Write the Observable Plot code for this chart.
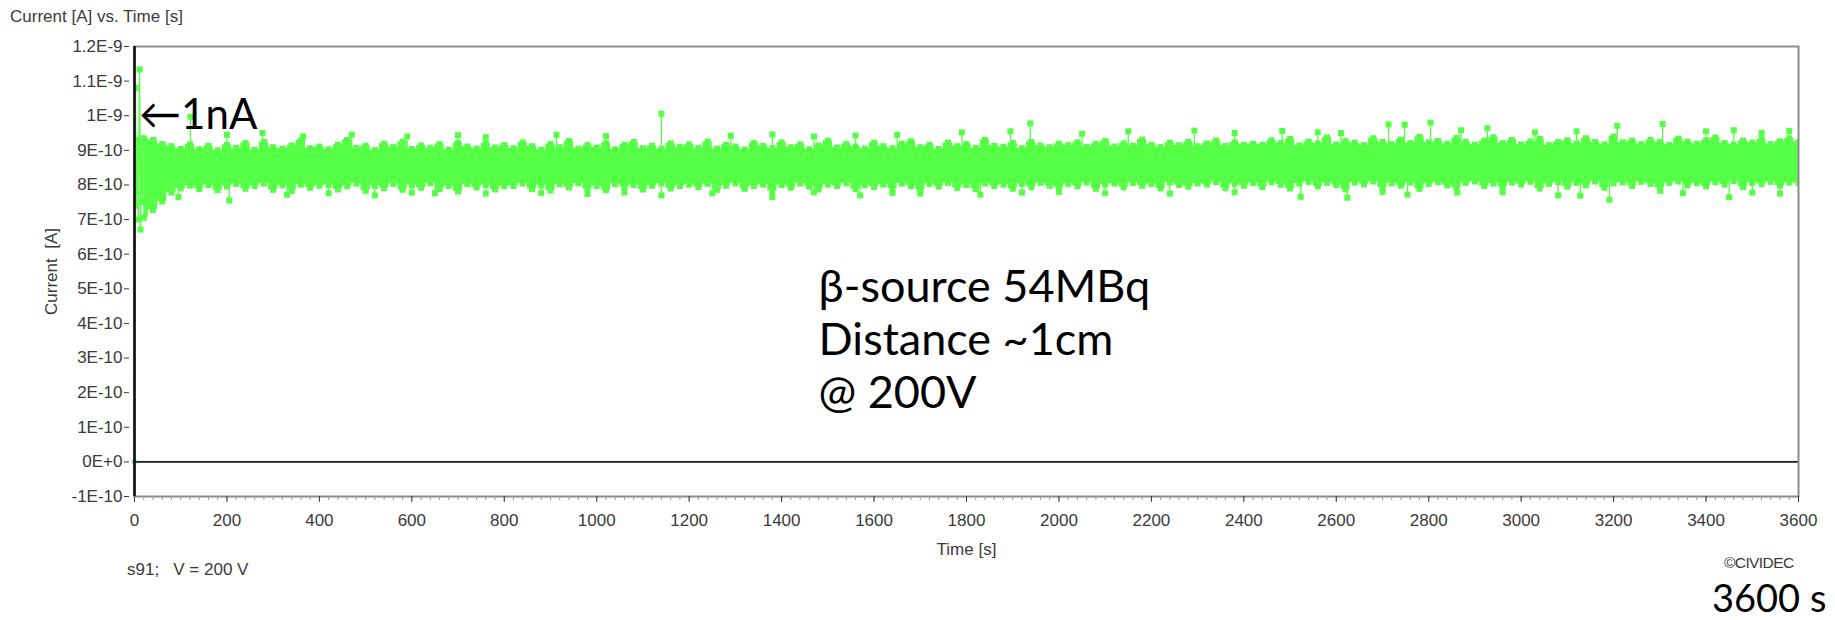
<!DOCTYPE html>
<html><head><meta charset="utf-8">
<script src="https://cdn.jsdelivr.net/npm/d3@7"></script>
<script src="https://cdn.jsdelivr.net/npm/@observablehq/plot@0.6"></script>
<style>
html,body{margin:0;padding:0;background:#fff;}
#wrap{position:relative;width:1835px;height:620px;overflow:hidden;font-family:"Liberation Sans",Arial,sans-serif;}
#chart{position:absolute;left:0;top:0;}
.lbl{position:absolute;white-space:pre;color:#3a3a3a;font-size:17px;line-height:20px;}
.big{position:absolute;white-space:pre;color:#000;font-family:Lato,"Open Sans",sans-serif;font-size:38px;line-height:38px;}
</style></head><body>
<div id="wrap">
  <div id="chart"></div>
  <div class="lbl" style="left:10px;top:7px">Current [A] vs. Time [s]</div>
  <div class="lbl" style="left:127px;top:560px">s91;   V = 200 V</div>
  <div class="lbl" style="left:1724px;top:555px;font-size:15.5px;line-height:16px;letter-spacing:-0.6px">©CIVIDEC</div>
  <div class="big" style="left:1712px;top:578px">3600 s</div>
</div>
<script>
// ---- axis ticks ----
const yTicks = [-1e-10, 0, 1e-10, 2e-10, 3e-10, 4e-10, 5e-10, 6e-10, 7e-10, 8e-10, 9e-10, 1e-9, 1.1e-9, 1.2e-9];
const yTickLabels = ["-1E-10", "0E+0", "1E-10", "2E-10", "3E-10", "4E-10", "5E-10", "6E-10", "7E-10", "8E-10", "9E-10", "1E-9", "1.1E-9", "1.2E-9"];
const xTicks = [0, 200, 400, 600, 800, 1000, 1200, 1400, 1600, 1800, 2000, 2200, 2400, 2600, 2800, 3000, 3200, 3400, 3600];
const xTickLabels = ["0", "200", "400", "600", "800", "1000", "1200", "1400", "1600", "1800", "2000", "2200", "2400", "2600", "2800", "3000", "3200", "3400", "3600"];

// ---- start-up samples (time s, current nA) ----
const earlyTime = [0, 2, 4, 6, 8, 11, 13, 15, 17, 19];
const earlyValue = [0, 1.08, 0.74, 0.93, 0.70, 1.134, 0.671, 0.92, 0.75, 0.90];

// ---- envelope of the noisy current band, 20 s bins (nA) ----
const envTime = [
  20,40,60,80,100,120,140,160,180,200,220,240,260,280,300,320,340,360,380,400,
  420,440,460,480,500,520,540,560,580,600,620,640,660,680,700,720,740,760,780,800,
  820,840,860,880,900,920,940,960,980,1000,1020,1040,1060,1080,1100,1120,1140,1160,1180,1200,
  1220,1240,1260,1280,1300,1320,1340,1360,1380,1400,1420,1440,1460,1480,1500,1520,1540,1560,1580,1600,
  1620,1640,1660,1680,1700,1720,1740,1760,1780,1800,1820,1840,1860,1880,1900,1920,1940,1960,1980,2000,
  2020,2040,2060,2080,2100,2120,2140,2160,2180,2200,2220,2240,2260,2280,2300,2320,2340,2360,2380,2400,
  2420,2440,2460,2480,2500,2520,2540,2560,2580,2600,2620,2640,2660,2680,2700,2720,2740,2760,2780,2800,
  2820,2840,2860,2880,2900,2920,2940,2960,2980,3000,3020,3040,3060,3080,3100,3120,3140,3160,3180,3200,
  3220,3240,3260,3280,3300,3320,3340,3360,3380,3400,3420,3440,3460,3480,3500,3520,3540,3560,3580,3600];
const envHigh = [
  .935,.930,.918,.912,.904,.917,.903,.913,.900,.916,.907,.921,.902,.924,.909,.905,.914,.929,.906,.911,
  .903,.916,.930,.907,.913,.901,.919,.910,.925,.904,.914,.907,.918,.902,.922,.911,.905,.920,.908,.915,
  .906,.923,.912,.902,.918,.909,.927,.905,.915,.908,.921,.903,.916,.924,.906,.913,.904,.920,.910,.917,
  .907,.925,.905,.916,.911,.902,.921,.913,.906,.923,.909,.917,.903,.914,.928,.908,.918,.911,.905,.922,
  .912,.906,.919,.926,.909,.916,.904,.922,.912,.918,.907,.930,.913,.910,.921,.906,.924,.914,.909,.919,
  .915,.923,.910,.919,.927,.911,.920,.913,.931,.916,.909,.922,.915,.925,.912,.920,.928,.913,.923,.916,
  .919,.916,.929,.921,.933,.914,.925,.920,.937,.917,.927,.922,.915,.935,.924,.918,.931,.921,.939,.923,
  .927,.919,.936,.924,.916,.928,.938,.921,.930,.917,.926,.933,.915,.924,.929,.920,.935,.924,.917,.940,
  .923,.928,.918,.930,.924,.916,.934,.925,.919,.929,.937,.921,.917,.928,.922,.932,.918,.926,.935,.924];
const envLow = [
  .705,.728,.752,.778,.790,.798,.788,.800,.785,.796,.803,.789,.797,.804,.786,.799,.783,.801,.792,.798,
  .800,.787,.796,.804,.783,.797,.791,.803,.786,.799,.792,.805,.788,.797,.781,.802,.793,.800,.787,.796,
  .797,.804,.788,.799,.784,.802,.793,.805,.789,.797,.785,.803,.794,.800,.787,.798,.804,.790,.797,.801,
  .794,.803,.786,.798,.805,.789,.797,.801,.783,.800,.792,.804,.795,.787,.801,.797,.805,.788,.799,.794,
  .801,.790,.804,.797,.786,.803,.795,.806,.791,.800,.788,.804,.797,.801,.789,.803,.794,.806,.798,.792,
  .803,.796,.807,.789,.801,.804,.793,.806,.798,.803,.790,.807,.800,.795,.804,.801,.808,.791,.803,.798,
  .806,.794,.808,.801,.790,.804,.809,.796,.806,.800,.787,.807,.802,.810,.793,.805,.798,.807,.789,.803,
  .808,.799,.791,.806,.810,.797,.804,.794,.807,.801,.809,.790,.803,.808,.795,.806,.799,.810,.792,.805,
  .807,.797,.809,.803,.792,.806,.810,.799,.805,.796,.808,.801,.811,.794,.806,.803,.809,.798,.807,.805];

// ---- isolated spikes above / below the band (time s, current nA) ----
const upTime  = [121, 200, 277, 365, 470, 590, 700, 760, 913, 1020, 1140, 1290, 1380, 1470, 1560, 1650, 1790, 1895, 1938, 2050, 2150, 2293, 2380, 2483, 2560, 2610, 2713, 2748, 2804, 2870, 2927, 3030, 3120, 3208, 3306, 3400, 3460, 3520, 3580];
const upValue = [.997, .945, .950, .940, .945, .940, .944, .938, .945, .941, 1.006, .942, .946, .940, .943, .945, .952, .955, .978, .948, .955, .957, .950, .956, .952, .950, .975, .974, .980, .958, .964, .952, .955, .971, .976, .955, .958, .950, .956];
const downTime  = [95, 205, 330, 420, 520, 600, 650, 760, 880, 980, 1060, 1140, 1250, 1380, 1470, 1570, 1640, 1700, 1830, 1920, 2000, 2100, 2240, 2380, 2523, 2624, 2700, 2754, 2862, 2960, 3080, 3128, 3191, 3301, 3350, 3450, 3500, 3560];
const downValue = [.765, .755, .772, .776, .770, .778, .776, .775, .777, .774, .778, .770, .776, .765, .779, .770, .777, .775, .772, .778, .780, .776, .775, .779, .766, .763, .780, .772, .778, .779, .770, .769, .757, .783, .776, .765, .778, .775];

// ---- annotations ----
const annotText = "β-source 54MBq\nDistance ~1cm\n@ 200V";
const annotTime = 1480, annotCurrent = 0.572;
const arrowText = "←1nA";
const arrowTime = 10, arrowCurrent = 1.0;

const green = "#55ff45";
const nA = 1e-9;
const env = envTime.map((t, i) => ({t, hi: envHigh[i], lo: envLow[i]}));
const binOf = t => env[Math.max(0, Math.min(env.length - 1, Math.round(t / 20) - 1))];
const early = earlyTime.map((t, i) => ({t, v: earlyValue[i]}));
const ups = upTime.map((t, i) => ({t, v: upValue[i], base: binOf(t).hi}));
const downs = downTime.map((t, i) => ({t, v: downValue[i], base: binOf(t).lo}));
const xMinor = d3.range(0, 3601, 20);
const sq = {symbol: "square", r: 3.4, fill: green, clip: true};

const chart = Plot.plot({
  width: 1835, height: 620,
  marginLeft: 134, marginRight: 37, marginTop: 46, marginBottom: 124,
  style: {fontFamily: "'Liberation Sans', Arial, sans-serif", fontSize: "17px", color: "#3a3a3a", background: "white"},
  x: {domain: [0, 3600]},
  y: {domain: [-1e-10, 1.2e-9]},
  marks: [
    Plot.ruleY([0], {stroke: "#1a1a1a", strokeWidth: 1.6}),
    Plot.areaY(env, {x: "t", y1: d => d.lo * nA, y2: d => d.hi * nA, fill: green, curve: "step", clip: true}),
    Plot.ruleX(ups, {x: "t", y1: d => d.base * nA, y2: d => d.v * nA, stroke: green, strokeWidth: 1.3}),
    Plot.ruleX(downs, {x: "t", y1: d => d.base * nA, y2: d => d.v * nA, stroke: green, strokeWidth: 1.3}),
    Plot.dot(env, {x: "t", y: d => d.hi * nA, ...sq}),
    Plot.dot(env, {x: "t", y: d => d.lo * nA, ...sq}),
    Plot.dot(ups, {x: "t", y: d => d.v * nA, ...sq}),
    Plot.dot(downs, {x: "t", y: d => d.v * nA, ...sq}),
    Plot.line(early, {x: "t", y: d => d.v * nA, stroke: green, strokeWidth: 1.3}),
    Plot.dot(early.slice(1), {x: "t", y: d => d.v * nA, ...sq}),
    Plot.dot(early.slice(0, 1), {x: "t", y: d => d.v * nA, symbol: "square", r: 2.2, fill: "#1fa81f"}),
    Plot.frame({stroke: "#8c8c8c", strokeWidth: 2}),
    Plot.ruleX([0], {stroke: "#111", strokeWidth: 2.6}),
    Plot.axisY({ticks: yTicks, tickFormat: d => yTickLabels[yTicks.indexOf(d)], tickSize: 5, tickPadding: 2, dx: -5,
      label: "Current  [A]", labelAnchor: "center", labelArrow: "none", labelOffset: 90}),
    Plot.axisX({ticks: xMinor, tickSize: 4, tickFormat: () => "", label: null, stroke: "#9a9a9a"}),
    Plot.axisX({ticks: xTicks, tickFormat: d => xTickLabels[xTicks.indexOf(d)], tickSize: 6, tickPadding: 11,
      label: "Time [s]", labelAnchor: "center", labelArrow: "none", labelOffset: 58}),
    Plot.text([annotText], {x: () => annotTime, y: () => annotCurrent * nA, text: d => d, textAnchor: "start", lineAnchor: "top",
      fontSize: 45, fontFamily: "Lato, 'Open Sans', sans-serif", lineHeight: 1.18, fill: "#000"}),
    Plot.text([arrowText], {x: () => arrowTime, y: () => arrowCurrent * nA, text: d => d, textAnchor: "start", lineAnchor: "middle",
      fontSize: 42, fontFamily: "Lato, 'DejaVu Sans', sans-serif", fill: "#000"})
  ]
});
document.getElementById("chart").appendChild(chart);
</script>
</body></html>
